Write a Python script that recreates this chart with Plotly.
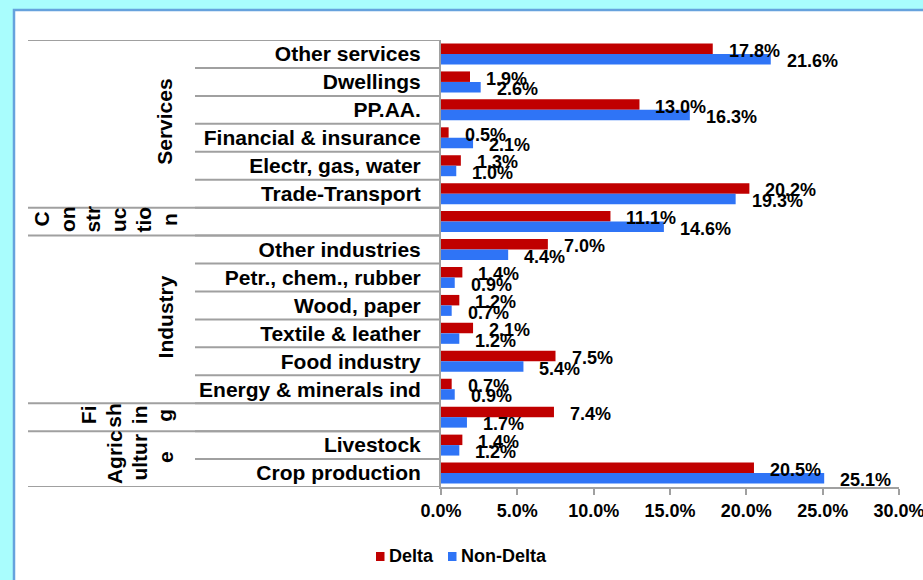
import plotly.graph_objects as go

# ---- data ----
categories = ["Other services", "Dwellings", "PP.AA.", "Financial & insurance",
              "Electr, gas, water", "Trade-Transport", "", "Other industries",
              "Petr., chem., rubber", "Wood, paper", "Textile & leather",
              "Food industry", "Energy & minerals ind", "", "Livestock",
              "Crop production"]
groups = ["Services"] * 6 + ["Construction"] + ["Industry"] * 6 + ["Fishing"] + ["Agriculture"] * 2
# group labels as wrapped in the original (one entry per wrapped line)
group_lines = {"Services": ["Services"],
               "Construction": ["C", "on", "str", "uc", "tio", "n"],
               "Industry": ["Industry"],
               "Fishing": ["Fi", "sh", "in", "g"],
               "Agriculture": ["Agric", "ultur", "e"]}
delta = [17.8, 1.9, 13.0, 0.5, 1.3, 20.2, 11.1, 7.0, 1.4, 1.2, 2.1, 7.5, 0.7, 7.4, 1.4, 20.5]
nondelta = [21.6, 2.6, 16.3, 2.1, 1.0, 19.3, 14.6, 4.4, 0.9, 0.7, 1.2, 5.4, 0.9, 1.7, 1.2, 25.1]
series_names = ["Delta", "Non-Delta"]
x_ticks = [0, 5, 10, 15, 20, 25, 30]
x_ticktext = ["0.0%", "5.0%", "10.0%", "15.0%", "20.0%", "25.0%", "30.0%"]

# ---- layout constants (pixels) ----
W, H = 923, 580
L, R, T, B = 441, 24, 40, 93
PW, PH = W - L - R, H - T - B
FONT = "Liberation Sans, Arial, sans-serif"
RED, BLUE = "#C00000", "#2F74F6"
COLORS = [RED, BLUE]
GRAY = "#A0A0A0"


def px2x(px):
    return (px - L) / PW


def py2y(py):
    return (H - B - py) / PH


pos = list(range(len(categories)))

fig = go.Figure()
for name, vals, col in zip(series_names, [delta, nondelta], COLORS):
    fig.add_trace(go.Bar(y=pos, x=vals, orientation="h", name=name,
                         marker=dict(color=col, line=dict(width=0))))

annotations = []
off = 0.1875
for i, (d, n) in enumerate(zip(delta, nondelta)):
    for val, dy in ((d, -off), (n, off)):
        annotations.append(dict(x=val, y=i + dy, xref="x", yref="y",
                                text=f"{val:.1f}%", showarrow=False,
                                xanchor="left", yanchor="middle",
                                xshift=14, yshift=-2,
                                font=dict(family=FONT, size=18, color="black",
                                          weight="bold")))

# group labels (rotated), column x pixel of first wrapped line and column step
group_x0 = {"Services": 165, "Construction": 42, "Industry": 165,
            "Fishing": 88, "Agriculture": 114}
COL_STEP = 25.5
seen = []
for g in groups:
    if g not in seen:
        seen.append(g)
for g in seen:
    idx = [i for i, gg in enumerate(groups) if gg == g]
    yc = (idx[0] + idx[-1]) / 2
    for j, line in enumerate(group_lines[g]):
        annotations.append(dict(x=px2x(group_x0[g] + j * COL_STEP), y=yc,
                                xref="paper", yref="y", yshift=2,
                                text=line, showarrow=False, textangle=-90,
                                xanchor="center", yanchor="middle",
                                font=dict(family=FONT, size=21, color="black",
                                          weight="bold")))

shapes = []
# panel background
shapes.append(dict(type="rect", xref="paper", yref="paper", layer="below",
                   x0=px2x(14), x1=px2x(W + 20), y0=py2y(H + 20), y1=py2y(10),
                   fillcolor="white", line=dict(color="#66A2DD", width=2.5)))
# inner separators at every row boundary
n = len(categories)
for k in range(n + 1):
    shapes.append(dict(type="line", xref="paper", yref="y",
                       x0=px2x(195), x1=0, y0=k - 0.5, y1=k - 0.5,
                       line=dict(color=GRAY, width=2)))
# outer separators at group boundaries
bounds = [0] + [k for k in range(1, n) if groups[k] != groups[k - 1]] + [n]
for k in bounds:
    shapes.append(dict(type="line", xref="paper", yref="y",
                       x0=px2x(28), x1=0, y0=k - 0.5, y1=k - 0.5,
                       line=dict(color=GRAY, width=2)))

# legend (drawn as keys + labels to match the compact original layout)
legend_x = [376, 448]
for name, col, lx in zip(series_names, COLORS, legend_x):
    shapes.append(dict(type="rect", xref="paper", yref="paper",
                       x0=px2x(lx), x1=px2x(lx + 8.5), y0=py2y(561), y1=py2y(552),
                       fillcolor=col, line=dict(width=0)))
    annotations.append(dict(x=px2x(lx + 11), y=py2y(556), xref="paper", yref="paper",
                            text=name, showarrow=False, xanchor="left",
                            yanchor="middle",
                            font=dict(family=FONT, size=18, color="black",
                                      weight="bold")))

fig.update_layout(
    width=W, height=H,
    margin=dict(l=L, r=R, t=T, b=B, autoexpand=False),
    paper_bgcolor="#A9FDFD", plot_bgcolor="rgba(0,0,0,0)",
    barmode="group", bargap=0.25, bargroupgap=0,
    font=dict(family=FONT, size=18, color="black", weight="bold"),
    xaxis=dict(range=[0, 30], tickmode="array", tickvals=x_ticks,
               ticktext=x_ticktext, ticklabeloverflow="allow",
               showgrid=False, zeroline=False, showline=True, linecolor=GRAY,
               linewidth=2, ticks="outside", ticklen=6, tickcolor=GRAY,
               tickwidth=2, ticklabelstandoff=0,
               tickfont=dict(family=FONT, size=18, color="black", weight="bold")),
    yaxis=dict(range=[n - 0.5, -0.5], tickvals=pos, ticktext=categories,
               showgrid=False, zeroline=False, showline=True, linecolor=GRAY,
               linewidth=2, ticks="", ticklabelstandoff=14,
               tickfont=dict(family=FONT, size=21, color="black", weight="bold")),
    annotations=annotations, shapes=shapes, showlegend=False,
)

fig.write_html("out.html", config={"displayModeBar": False},
               post_script="document.body.style.margin='0';"
                           "document.body.style.padding='0';"
                           "document.body.style.overflow='hidden';")
